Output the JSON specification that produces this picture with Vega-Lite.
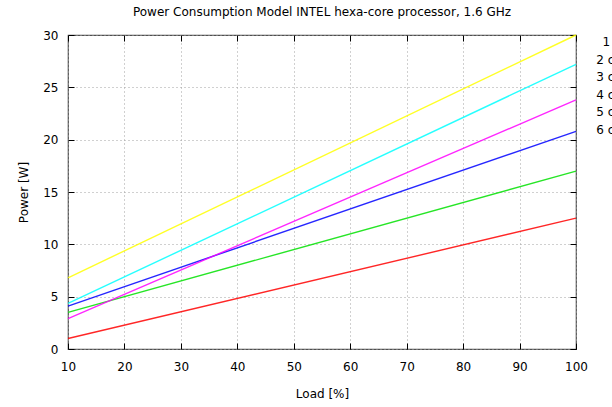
{
  "$schema": "https://vega.github.io/schema/vega-lite/v6.json",
  "width": 508,
  "height": 314,
  "autosize": {"type": "none"},
  "padding": {"left": 68, "top": 35, "right": 36, "bottom": 58},
  "background": "white",
  "config": {
    "font": "DejaVu Sans",
    "view": {"stroke": "#505050", "strokeWidth": 1.2},
    "axis": {
      "labelFont": "DejaVu Sans",
      "labelFontSize": 12,
      "labelColor": "#000000",
      "titleFont": "DejaVu Sans",
      "titleFontSize": 12,
      "titleFontWeight": "normal",
      "titleColor": "#000000",
      "domain": false,
      "tickColor": "#000000",
      "tickWidth": 1,
      "gridColor": "#a0a0a0",
      "gridDash": [1, 3],
      "gridWidth": 1,
      "gridOpacity": 1,
      "labelFlush": false
    }
  },
  "title": {
    "text": "Power Consumption Model INTEL hexa-core processor, 1.6 GHz",
    "anchor": "middle",
    "frame": "group",
    "offset": 10,
    "fontSize": 12,
    "fontWeight": "normal",
    "font": "DejaVu Sans",
    "color": "#000000"
  },
  "data": {
    "values": [
      {"Load": 10, "Power": 1.0, "Series": "1 core"},
      {"Load": 100, "Power": 12.5, "Series": "1 core"},
      {"Load": 10, "Power": 3.5, "Series": "2 cores"},
      {"Load": 100, "Power": 17.0, "Series": "2 cores"},
      {"Load": 10, "Power": 4.1, "Series": "3 cores"},
      {"Load": 100, "Power": 20.8, "Series": "3 cores"},
      {"Load": 10, "Power": 2.9, "Series": "4 cores"},
      {"Load": 100, "Power": 23.8, "Series": "4 cores"},
      {"Load": 10, "Power": 4.35, "Series": "5 cores"},
      {"Load": 100, "Power": 27.2, "Series": "5 cores"},
      {"Load": 10, "Power": 6.8, "Series": "6 cores"},
      {"Load": 100, "Power": 30.0, "Series": "6 cores"}
    ]
  },
  "resolve": {"axis": {"x": "independent", "y": "independent"}},
  "layer": [
    {
      "mark": {"type": "line", "strokeWidth": 1.4, "opacity": 0.85},
      "encoding": {
        "x": {
          "field": "Load", "type": "quantitative",
          "scale": {"domain": [10, 100], "nice": false, "zero": false},
          "axis": {
            "values": [10, 20, 30, 40, 50, 60, 70, 80, 90, 100],
            "title": "Load [%]",
            "tickSize": -6,
            "labelPadding": 18,
            "titlePadding": 16,
            "grid": true
          }
        },
        "y": {
          "field": "Power", "type": "quantitative",
          "scale": {"domain": [0, 30], "nice": false},
          "axis": {
            "values": [0, 5, 10, 15, 20, 25, 30],
            "title": "Power [W]",
            "tickSize": -6,
            "labelPadding": 16,
            "titlePadding": 12,
            "grid": true
          }
        },
        "color": {
          "field": "Series", "type": "nominal",
          "scale": {
            "domain": ["1 core", "2 cores", "3 cores", "4 cores", "5 cores", "6 cores"],
            "range": ["#ff0000", "#00e000", "#0000ff", "#ff00ff", "#00ffff", "#ffff00"]
          },
          "legend": {
            "orient": "none",
            "legendX": 556,
            "legendY": 1,
            "title": null,
            "padding": 0,
            "symbolOpacity": 0,
            "symbolSize": 0,
            "symbolType": "stroke",
            "labelAlign": "right",
            "labelFontSize": 12,
            "labelFont": "DejaVu Sans",
            "labelColor": "#000000",
            "rowPadding": 5.5
          }
        }
      }
    },
    {
      "mark": {"type": "line", "opacity": 0},
      "encoding": {
        "x": {
          "field": "Load", "type": "quantitative",
          "scale": {"domain": [10, 100], "nice": false, "zero": false},
          "axis": {
            "orient": "top",
            "values": [10, 20, 30, 40, 50, 60, 70, 80, 90, 100],
            "labels": false,
            "title": null,
            "tickSize": -6,
            "grid": false
          }
        },
        "y": {
          "field": "Power", "type": "quantitative",
          "scale": {"domain": [0, 30], "nice": false},
          "axis": {
            "orient": "right",
            "values": [0, 5, 10, 15, 20, 25, 30],
            "labels": false,
            "title": null,
            "tickSize": -6,
            "grid": false
          }
        }
      }
    }
  ]
}
